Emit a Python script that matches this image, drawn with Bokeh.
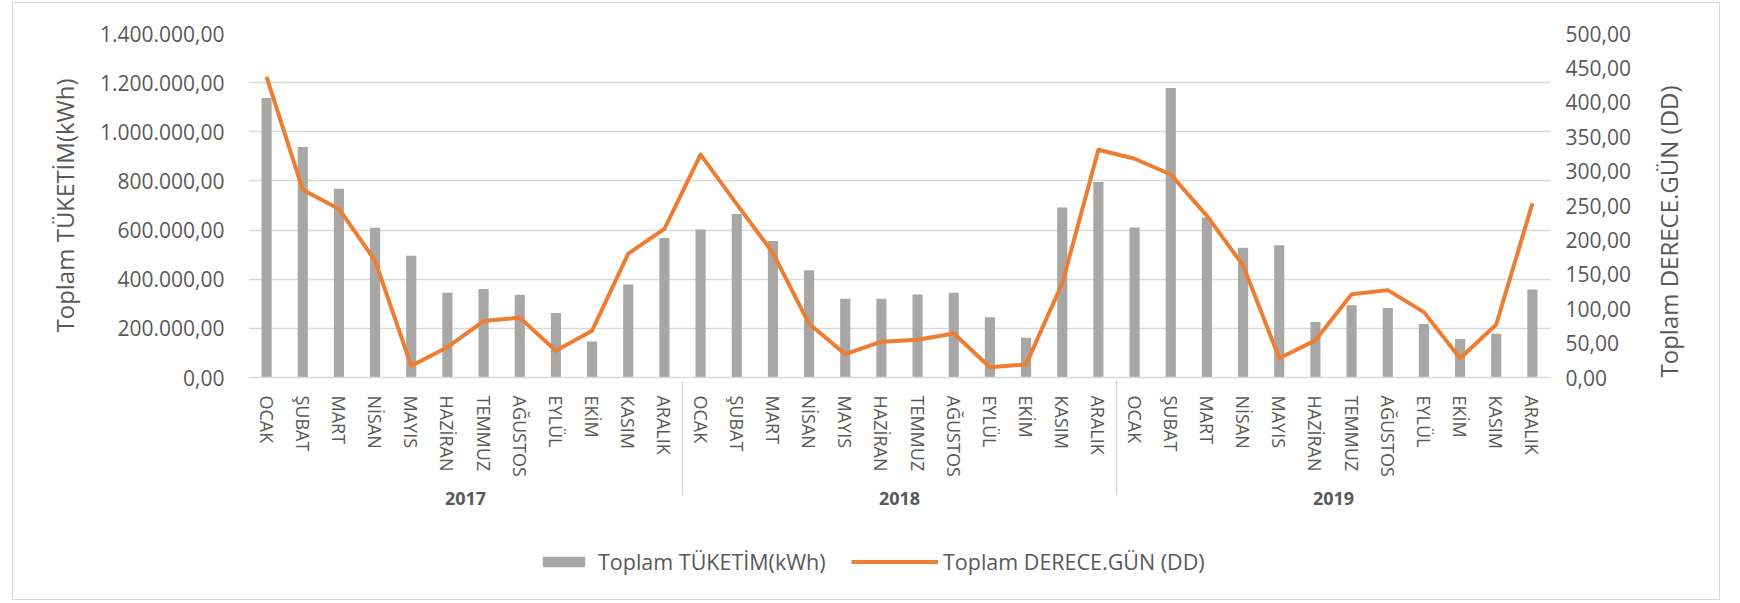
import math
from bokeh.plotting import figure
from bokeh.layouts import column
from bokeh.models import (FactorRange, Range1d, LinearAxis, FixedTicker,
                          CustomJSTickFormatter, Legend, LegendItem, ColumnDataSource)
from bokeh.embed import file_html
from bokeh.resources import INLINE

years = ["2017", "2018", "2019"]
months = ["OCAK", "ŞUBAT", "MART", "NİSAN", "MAYIS", "HAZİRAN",
          "TEMMUZ", "AĞUSTOS", "EYLÜL", "EKİM", "KASIM", "ARALIK"]

consumption_2017 = [1138000, 938000, 768000, 609000, 496000, 345000,
                    360000, 337000, 262000, 147000, 378000, 568000]
consumption_2018 = [602000, 665000, 556000, 436000, 320000, 320000,
                    338000, 345000, 245000, 162000, 692000, 796000]
consumption_2019 = [610000, 1178000, 651000, 528000, 538000, 226000,
                    294000, 283000, 218000, 157000, 178000, 358000]

degree_days_2017 = [437, 273, 245, 170, 17, 44, 82, 87, 39, 68, 180, 216]
degree_days_2018 = [324, 252, 181, 78, 34, 52, 55, 64, 15, 19, 137, 331]
degree_days_2019 = [318, 295, 235, 163, 28, 54, 121, 127, 95, 28, 77, 253]

left_ticks = [0, 200000, 400000, 600000, 800000, 1000000, 1200000, 1400000]
right_ticks = [0, 50, 100, 150, 200, 250, 300, 350, 400, 450, 500]

bar_label = "Toplam TÜKETİM(kWh)"
line_label = "Toplam DERECE.GÜN (DD)"

factors = [(y, m) for y in years for m in months]
src = ColumnDataSource(dict(
    x=factors,
    cons=consumption_2017 + consumption_2018 + consumption_2019,
    dd=degree_days_2017 + degree_days_2018 + degree_days_2019,
))

FONT = "Open Sans"
TXT = "#595959"
GRID = "#D9D9D9"
BAR = "#A9A6A6"
LINE = "#ED7D31"

fmt = CustomJSTickFormatter(code=r"""
const s = tick.toFixed(2);
const parts = s.split('.');
return parts[0].replace(/\B(?=(\d{3})+(?!\d))/g, '.') + ',' + parts[1];
""")

xr = FactorRange(*factors, range_padding=0, group_padding=0, factor_padding=0)

p = figure(width=1706, height=530, x_range=xr,
           y_range=Range1d(0, 1400000),
           output_backend="svg", toolbar_location=None,
           min_border_left=235, min_border_right=169,
           min_border_top=30, min_border_bottom=156)
p.outline_line_color = None
p.extra_y_ranges = {"dd": Range1d(0, 500)}

p.vbar(x="x", top="cons", width=0.28, source=src,
       fill_color=BAR, line_color=None)
p.line(x="x", y="dd", source=src, y_range_name="dd",
       line_color=LINE, line_width=4, line_join="round")

# left axis
ya = p.yaxis[0]
ya.ticker = FixedTicker(ticks=left_ticks)
ya.formatter = fmt
ya.axis_label = bar_label
ya.axis_line_color = None
ya.major_tick_line_color = None
ya.minor_tick_line_color = None
ya.major_label_text_font = FONT
ya.major_label_text_font_size = "21px"
ya.major_label_text_color = TXT
ya.major_label_standoff = 18
ya.axis_label_text_font = FONT
ya.axis_label_text_font_size = "24px"
ya.axis_label_text_font_style = "normal"
ya.axis_label_text_color = TXT
ya.axis_label_standoff = 16

# right axis
ra = LinearAxis(y_range_name="dd", ticker=FixedTicker(ticks=right_ticks),
                formatter=fmt, axis_label=line_label)
ra.axis_line_color = None
ra.major_tick_line_color = None
ra.minor_tick_line_color = None
ra.major_label_text_font = FONT
ra.major_label_text_font_size = "21px"
ra.major_label_text_color = TXT
ra.major_label_standoff = 9
ra.axis_label_text_font = FONT
ra.axis_label_text_font_size = "24px"
ra.axis_label_text_font_style = "normal"
ra.axis_label_text_color = TXT
ra.axis_label_standoff = 35
try:
    ra.axis_label_orientation = math.pi / 2
    ra.axis_label_align = "start"
except Exception:
    pass
p.add_layout(ra, "right")

# bottom categorical axis
xa = p.xaxis[0]
xa.axis_line_color = GRID
xa.axis_line_width = 1.5
xa.major_tick_line_color = None
xa.minor_tick_line_color = None
xa.major_label_orientation = "vertical"
xa.major_label_text_font = FONT
xa.major_label_text_font_size = "18px"
xa.major_label_text_color = TXT
xa.major_label_standoff = 12
xa.group_text_font = FONT
xa.group_text_font_size = "18px"
xa.group_text_font_style = "bold"
xa.group_text_color = TXT
xa.separator_line_color = GRID
xa.separator_line_width = 1.5

p.xgrid.grid_line_color = None
p.ygrid.grid_line_color = GRID
p.ygrid.grid_line_width = 1.5

# legend strip below the chart: hidden copies of the two series supply the
# legend glyph styles
q = figure(width=1706, height=66, x_range=xr, y_range=Range1d(-2, -1),
           x_axis_type=None, y_axis_type=None,
           output_backend="svg", toolbar_location=None,
           min_border_left=0, min_border_right=0, min_border_top=0, min_border_bottom=0)
q.outline_line_color = None
lb = q.vbar(x="x", top="cons", width=0.28, source=src, fill_color=BAR, line_color=None)
ll = q.line(x="x", y="dd", source=src, line_color=LINE, line_width=4)
lb.visible = False
ll.visible = False

common = dict(glyph_height=13, padding=0, margin=0, border_line_color=None,
              background_fill_alpha=0, inactive_fill_alpha=0,
              label_text_font=FONT,
              label_text_font_size="21.5px", label_text_color=TXT)
leg1 = Legend(items=[LegendItem(label=bar_label, renderers=[lb])],
              location=(289, 23), glyph_width=53, label_standoff=8, **common)
leg2 = Legend(items=[LegendItem(label=line_label, renderers=[ll])],
              location=(603, 23), glyph_width=87, label_standoff=5, **common)
q.add_layout(leg1, "center")
q.add_layout(leg2, "center")

layout = column(p, q, spacing=0,
                styles={"border": "1px solid #D9D9D9", "margin-left": "12px",
                        "margin-top": "2px"})

open("out.html", "w").write(file_html(layout, INLINE))
